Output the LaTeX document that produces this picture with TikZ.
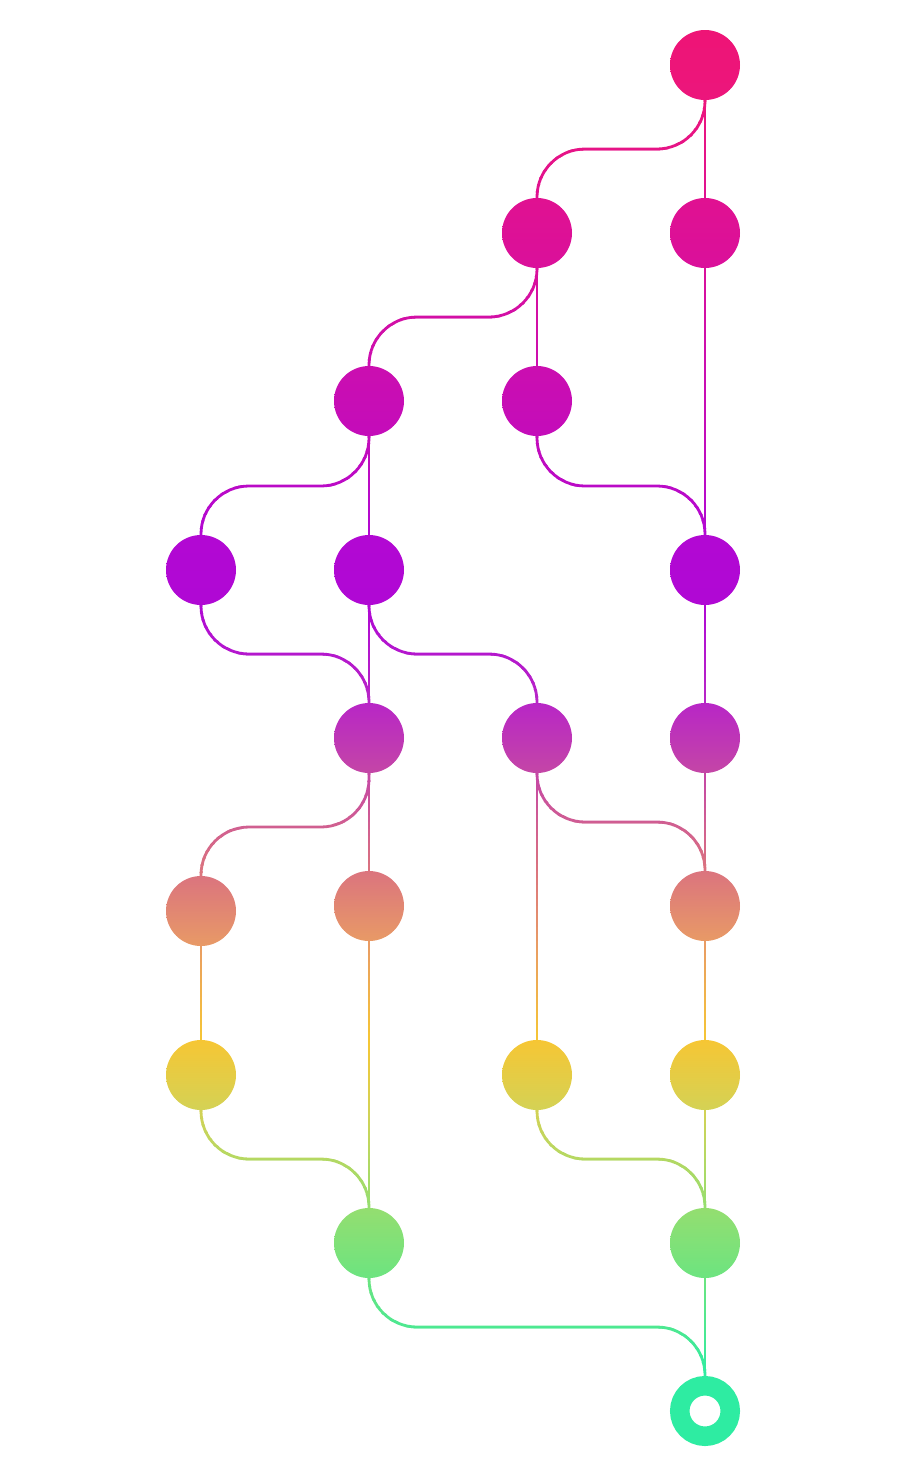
\documentclass[tikz,border=0pt]{standalone}
\usetikzlibrary{calc}
\pgfdeclarelayer{bg}
\pgfsetlayers{bg,main}
\definecolor{r1t}{RGB}{238,20,118}
\definecolor{r1b}{RGB}{236,22,124}
\definecolor{r2t}{RGB}{224,17,145}
\definecolor{r2b}{RGB}{218,16,155}
\definecolor{r3t}{RGB}{203,14,176}
\definecolor{r3b}{RGB}{196,12,186}
\definecolor{r4t}{RGB}{178,8,211}
\definecolor{r4b}{RGB}{176,8,212}
\definecolor{r5t}{RGB}{184,38,198}
\definecolor{r5b}{RGB}{196,70,166}
\definecolor{r6t}{RGB}{219,116,126}
\definecolor{r6b}{RGB}{232,154,102}
\definecolor{r7t}{RGB}{246,198,52}
\definecolor{r7b}{RGB}{212,210,85}
\definecolor{r8t}{RGB}{148,222,112}
\definecolor{r8b}{RGB}{108,228,128}
\definecolor{r9t}{RGB}{46,236,162}
\definecolor{r9b}{RGB}{44,238,165}
\colorlet{bandc}{r1t}
\tikzset{
  commit/.style={circle, minimum size=70pt, inner sep=0pt, outer sep=0pt},
  conn/.style={line width=2.8pt, draw=bandc, rounded corners=48pt},
}
% straight connector
\newcommand\straightc[2]{\draw[conn] (#1.center) -- (#2.center);}
% branching / merging connector
\newcommand\curvec[2]{\draw[conn] (#1.center) |- ([yshift=49pt]#2.north) -- (#2.center);}
\newcommand\allconnectors{%
  \straightc{A}{C}\straightc{B}{E}\straightc{C}{H}\straightc{D}{G}%
  \straightc{G}{I}\straightc{H}{K}\straightc{I}{M}\straightc{K}{N}%
  \straightc{J}{P}\straightc{L}{O}\straightc{N}{Q}\straightc{M}{R}%
  \straightc{Q}{S}\straightc{S}{T}%
  \curvec{A}{B}\curvec{B}{D}\curvec{E}{H}\curvec{D}{F}\curvec{F}{I}%
  \curvec{G}{J}\curvec{I}{L}\curvec{J}{N}\curvec{O}{R}\curvec{P}{S}%
  \curvec{R}{T}%
}
\begin{document}
\begin{tikzpicture}[x=1pt,y=-1pt]
\useasboundingbox (0,0) rectangle (907,1475);
% commits
\node[commit, top color=r1t, bottom color=r1b] (A) at (705,65) {};
\node[commit, top color=r2t, bottom color=r2b] (B) at (537,233) {};
\node[commit, top color=r2t, bottom color=r2b] (C) at (705,233) {};
\node[commit, top color=r3t, bottom color=r3b] (D) at (369,401) {};
\node[commit, top color=r3t, bottom color=r3b] (E) at (537,401) {};
\node[commit, top color=r4t, bottom color=r4b] (F) at (201,570) {};
\node[commit, top color=r4t, bottom color=r4b] (G) at (369,570) {};
\node[commit, top color=r4t, bottom color=r4b] (H) at (705,570) {};
\node[commit, top color=r5t, bottom color=r5b] (I) at (369,738) {};
\node[commit, top color=r5t, bottom color=r5b] (J) at (537,738) {};
\node[commit, top color=r5t, bottom color=r5b] (K) at (705,738) {};
\node[commit, top color=r6t, bottom color=r6b] (L) at (201,911) {};
\node[commit, top color=r6t, bottom color=r6b] (M) at (369,906) {};
\node[commit, top color=r6t, bottom color=r6b] (N) at (705,906) {};
\node[commit, top color=r7t, bottom color=r7b] (O) at (201,1075) {};
\node[commit, top color=r7t, bottom color=r7b] (P) at (537,1075) {};
\node[commit, top color=r7t, bottom color=r7b] (Q) at (705,1075) {};
\node[commit, top color=r8t, bottom color=r8b] (R) at (369,1243) {};
\node[commit, top color=r8t, bottom color=r8b] (S) at (705,1243) {};
\node[circle, minimum size=50.5pt, inner sep=0pt, draw=r9t, line width=19.5pt, fill=white] (T) at (705,1411) {};
% connectors with vertical colour gradient, drawn in thin bands
\begin{pgfonlayer}{bg}
\foreach \ya/\yb/\ca/\cb in {30/100/r1t/r1b, 100/198/r1b/r2t, 198/268/r2t/r2b, 268/366/r2b/r3t,
  366/436/r3t/r3b, 436/535/r3b/r4t, 535/605/r4t/r4b, 605/703/r4b/r5t, 703/773/r5t/r5b,
  773/871/r5b/r6t, 871/941/r6t/r6b, 941/1040/r6b/r7t, 1040/1110/r7t/r7b, 1110/1208/r7b/r8t,
  1208/1278/r8t/r8b, 1278/1376/r8b/r9t, 1376/1446/r9t/r9b} {
  \pgfmathtruncatemacro\nb{max(1,round((\yb-\ya)/7))}
  \foreach \k in {1,...,\nb} {
    \pgfmathsetmacro\ylo{\ya+(\k-1)*(\yb-\ya)/\nb}
    \pgfmathsetmacro\yhi{\ya+\k*(\yb-\ya)/\nb+1}
    \pgfmathtruncatemacro\pc{round(100*(\k-0.5)/\nb)}
    \begin{scope}
      \clip (0,\ylo) rectangle (907,\yhi);
      \colorlet{bandc}{\cb!\pc!\ca}
      \allconnectors
    \end{scope}
  }
}
\end{pgfonlayer}
\end{tikzpicture}
\end{document}
